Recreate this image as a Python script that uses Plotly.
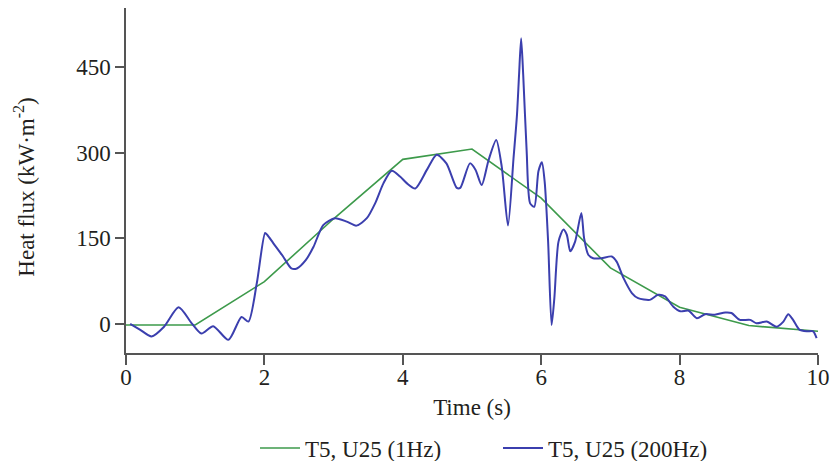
import plotly.graph_objects as go

# 1 Hz heat-flux record (one sample per second)
t_1hz = [0, 1, 2, 3, 4, 5, 6, 7, 8, 9, 10]
q_1hz = [-2, -2, 74, 184, 288, 306, 220, 98, 29, -3, -13]

# 200 Hz heat-flux record (traced samples)
t_200hz = [0.06, 0.20, 0.37, 0.55, 0.76, 0.95, 1.09, 1.26, 1.48, 1.67, 1.77, 1.89,
           2.01, 2.04, 2.13, 2.27, 2.39, 2.47, 2.60, 2.71, 2.85, 3.02, 3.19, 3.33,
           3.48, 3.60, 3.72, 3.84, 3.96, 4.06, 4.18, 4.35, 4.49, 4.63, 4.78, 4.83,
           4.97, 5.05, 5.14, 5.24, 5.35, 5.43, 5.52, 5.60, 5.65, 5.68, 5.71, 5.74,
           5.79, 5.84, 5.90, 5.96, 6.01, 6.05, 6.10, 6.15, 6.19, 6.25, 6.32, 6.37,
           6.42, 6.49, 6.58, 6.62, 6.68, 6.75, 6.87, 7.02, 7.09, 7.19, 7.31, 7.40,
           7.57, 7.69, 7.79, 7.91, 8.01, 8.13, 8.25, 8.37, 8.51, 8.66, 8.75, 8.87,
           9.02, 9.11, 9.26, 9.40, 9.50, 9.57, 9.64, 9.73, 9.84, 9.93, 9.98]
q_200hz = [0, -10, -22, -5, 29, 1, -17, -4, -28, 12, 4, 71,
           159, 156, 141, 118, 97, 97, 112, 135, 173, 185, 179, 172,
           185, 211, 246, 268, 258, 246, 237, 270, 296, 281, 238, 238,
           281, 270, 243, 287, 322, 275, 172, 290, 366, 436, 500, 436,
           302, 211, 205, 267, 283, 249, 144, -2, 45, 144, 165, 156,
           127, 144, 194, 150, 121, 115, 115, 118, 109, 80, 54, 45,
           42, 51, 48, 30, 22, 23, 10, 17, 16, 20, 19, 7,
           7, 1, 4, -5, 4, 17, 7, -10, -13, -13, -25]

x_ticks = [0, 2, 4, 6, 8, 10]
y_ticks = [0, 150, 300, 450]

SERIF = "Liberation Serif, Times New Roman, serif"
AXIS_COLOR = "#555555"
TEXT_COLOR = "#231f20"
FS = 23

fig = go.Figure()
fig.add_trace(go.Scatter(
    x=t_1hz, y=q_1hz, mode="lines", name="T5, U25 (1Hz)",
    line=dict(color="#3d9a4b", width=1.6),
))
fig.add_trace(go.Scatter(
    x=t_200hz, y=q_200hz, mode="lines", name="T5, U25 (200Hz)",
    line=dict(color="#3b3fae", width=2, shape="spline", smoothing=0.7),
))

# vertical axis title placed as an annotation
fig.add_annotation(
    text="Heat flux (kW·m<sup>-2</sup>)", textangle=-90,
    xref="paper", yref="paper", x=-0.147, y=0.48,
    xanchor="center", yanchor="middle", showarrow=False,
    font=dict(family=SERIF, size=FS, color=TEXT_COLOR),
)

fig.update_layout(
    width=830, height=461,
    margin=dict(l=126, r=12, t=8, b=108),
    paper_bgcolor="white", plot_bgcolor="white",
    font=dict(family=SERIF, size=FS, color=TEXT_COLOR),
    showlegend=True,
    legend=dict(
        orientation="h", x=255 / 830, xref="container", xanchor="left",
        y=0.028, yref="container", yanchor="middle",
        font=dict(family=SERIF, size=FS, color=TEXT_COLOR),
        itemwidth=40, entrywidth=188, tracegroupgap=0,
        bgcolor="rgba(0,0,0,0)",
    ),
    xaxis=dict(
        range=[0, 10], tickvals=x_ticks, ticktext=[str(v) for v in x_ticks],
        showgrid=False, zeroline=False, showline=True, linecolor=AXIS_COLOR,
        linewidth=1.5, ticks="outside", ticklen=10, tickwidth=1.5,
        tickcolor=AXIS_COLOR, tickfont=dict(size=FS), automargin=False,
        ticklabelstandoff=-7,
        title=dict(text="Time (s)", font=dict(size=FS), standoff=10),
    ),
    yaxis=dict(
        range=[-51, 553], tickvals=y_ticks, ticktext=[str(v) for v in y_ticks],
        showgrid=False, zeroline=False, showline=True, linecolor=AXIS_COLOR,
        linewidth=1.5, ticks="outside", ticklen=9, tickwidth=1.5,
        tickcolor=AXIS_COLOR, tickfont=dict(size=FS), automargin=False,
    ),
)

fig.write_html("out.html")
